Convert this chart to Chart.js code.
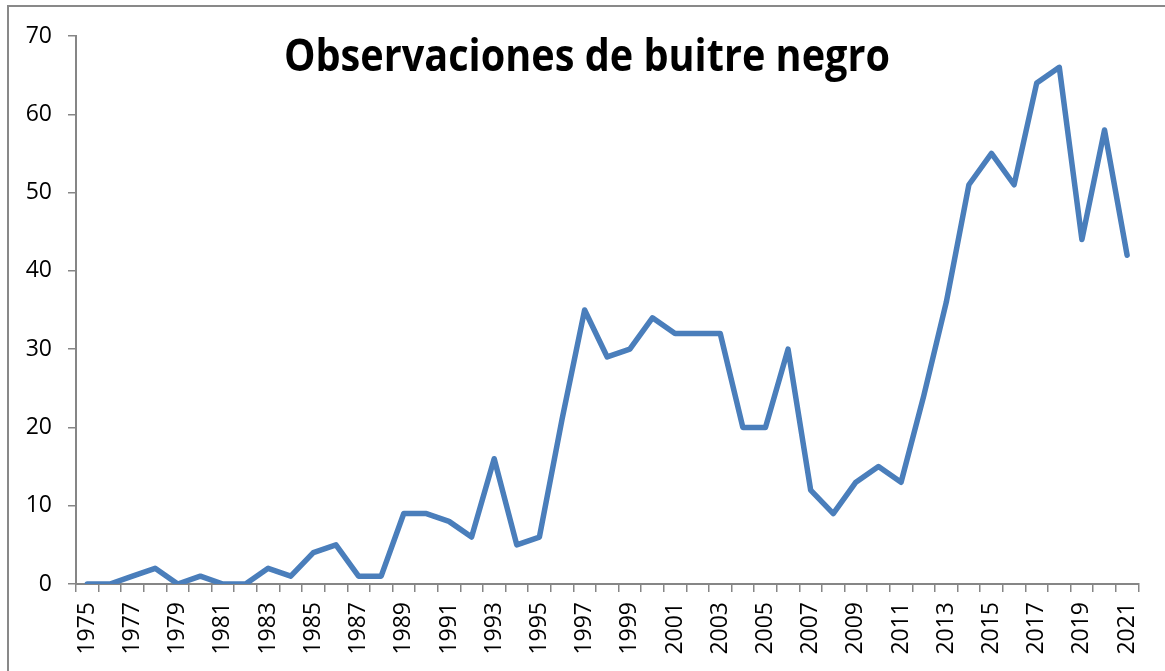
<!DOCTYPE html>
<html>
<head>
<meta charset="utf-8">
<script src="https://cdn.jsdelivr.net/npm/chart.js@4.4.1/dist/chart.umd.min.js"></script>
<style>
  html, body { margin: 0; padding: 0; background: #fff; }
  #wrap { position: relative; width: 1165px; height: 671px; overflow: hidden; }
  #frame { position: absolute; left: 7px; top: 5px; width: 1200px; height: 700px;
           border-left: 2px solid #898989; border-top: 2px solid #898989; }
  canvas { position: absolute; left: 0; top: 0; }
</style>
</head>
<body>
<div id="wrap">
  <div id="frame"></div>
  <canvas id="lineChart" width="1165" height="671"></canvas>
</div>
<script>
// data
var chartTitle = "Observaciones de buitre negro";
var years = [
  "1975", "1976", "1977", "1978", "1979", "1980", "1981", "1982", "1983", "1984",
  "1985", "1986", "1987", "1988", "1989", "1990", "1991", "1992", "1993", "1994",
  "1995", "1996", "1997", "1998", "1999", "2000", "2001", "2002", "2003", "2004",
  "2005", "2006", "2007", "2008", "2009", "2010", "2011", "2012", "2013", "2014",
  "2015", "2016", "2017", "2018", "2019", "2020", "2021"
];
var observaciones = [
  0, 0, 1, 2, 0, 1, 0, 0, 2, 1,
  4, 5, 1, 1, 9, 9, 8, 6, 16, 5,
  6, 21, 35, 29, 30, 34, 32, 32, 32, 20,
  20, 30, 12, 9, 13, 15, 13, 24, 36, 51,
  55, 51, 64, 66, 44, 58, 42
];
var yMin = 0;
var yMax = 70;
var yStep = 10;

(function () {
  "use strict";

  var axisGrey = "#868686";
  var tickFont = { family: "'Open Sans', 'Liberation Sans', sans-serif", size: 23 };

  // title sits inside the plot area, like the Excel original
  var overlayTitle = {
    id: "overlayTitle",
    afterDraw: function (chart) {
      var c = chart.ctx;
      c.save();
      c.font = "bold 44px 'Open Sans', 'Liberation Sans', sans-serif";
      c.fillStyle = "#000";
      c.textAlign = "center";
      c.textBaseline = "alphabetic";
      var w = c.measureText(chartTitle).width;
      var sx = Math.min(1, 606 / w);
      c.translate(587, 71);
      c.scale(sx, 1);
      c.fillText(chartTitle, 0, 0);
      c.restore();
    }
  };

  try {
    var ctx = document.getElementById("lineChart");
    new Chart(ctx, {
      type: "line",
      data: {
        labels: years,
        datasets: [
          {
            label: chartTitle,
            data: observaciones,
            borderColor: "#4A7EBB",
            borderWidth: 5.5,
            borderJoinStyle: "round",
            borderCapStyle: "round",
            pointRadius: 0,
            tension: 0,
            fill: false
          }
        ]
      },
      options: {
        responsive: false,
        animation: false,
        layout: { padding: { top: 36, right: 26, bottom: 0, left: 0 } },
        plugins: {
          legend: { display: false },
          tooltip: { enabled: false },
          title: { display: false }
        },
        scales: {
          x: {
            type: "category",
            offset: true,
            grid: {
              offset: true,
              drawOnChartArea: false,
              drawTicks: true,
              tickLength: 8,
              color: axisGrey,
              lineWidth: 1.5
            },
            border: { display: true, color: axisGrey, width: 2 },
            ticks: {
              autoSkip: false,
              minRotation: 90,
              maxRotation: 90,
              padding: 10,
              color: "#000",
              font: tickFont,
              callback: function (val, i) {
                return i % 2 === 0 ? years[i] : "";
              }
            },
            afterFit: function (scale) {
              scale.height = 87;
            }
          },
          y: {
            min: yMin,
            max: yMax,
            grid: {
              drawOnChartArea: false,
              drawTicks: true,
              tickLength: 8,
              color: axisGrey,
              lineWidth: 1.5
            },
            border: { display: true, color: axisGrey, width: 2 },
            ticks: {
              stepSize: yStep,
              padding: 16,
              color: "#000",
              font: tickFont
            },
            afterFit: function (scale) {
              scale.width = 76;
            }
          }
        }
      },
      plugins: [overlayTitle]
    });
  } catch (error) {
    console.log(error);
  }
})();
</script>
</body>
</html>
